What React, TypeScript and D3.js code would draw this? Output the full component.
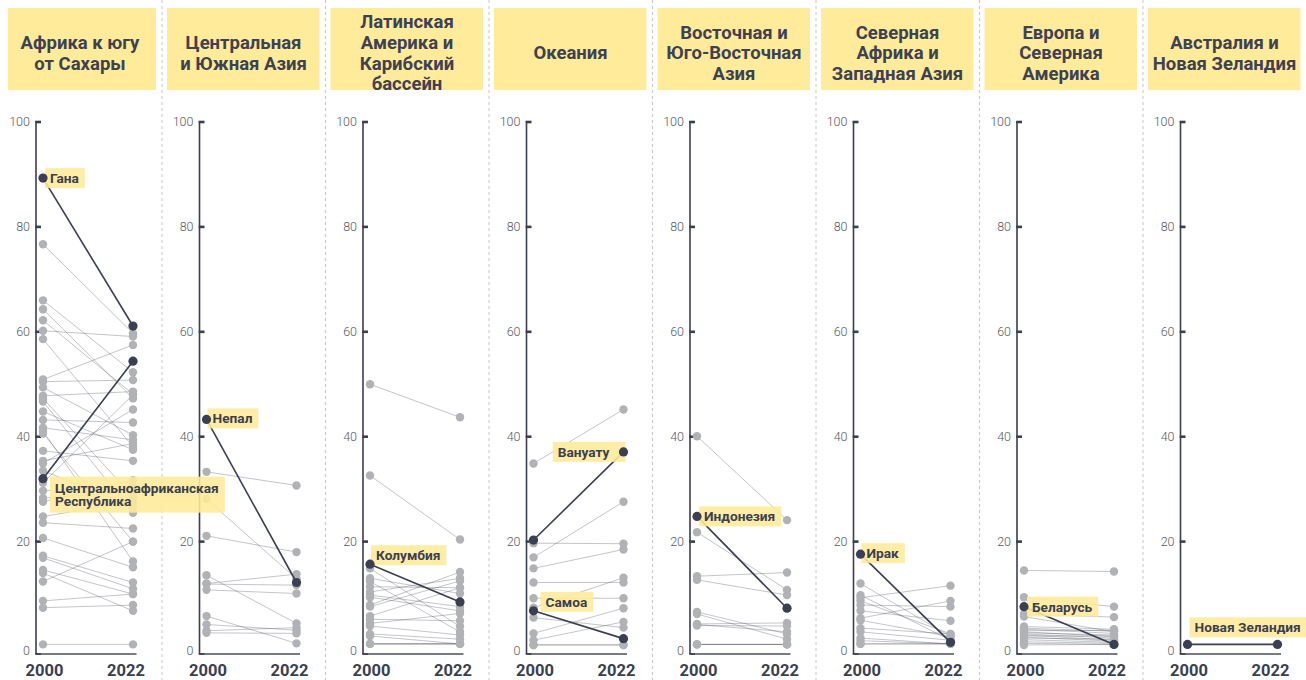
import React, { useEffect, useRef } from "react";
import * as d3 from "d3";

// ---------- DATA ----------
const years = ["2000", "2022"];
const yTicks = [0, 20, 40, 60, 80, 100];

const regionTitles: string[][] = [
  ["Африка к югу", "от Сахары"],
  ["Центральная", "и Южная Азия"],
  ["Латинская", "Америка и", "Карибский", "бассейн"],
  ["Океания"],
  ["Восточная и", "Юго-Восточная", "Азия"],
  ["Северная", "Африка и", "Западная Азия"],
  ["Европа и", "Северная", "Америка"],
  ["Австралия и", "Новая Зеландия"],
];

type Pair = [number, number];

const africaGrey: Pair[] = [
  [76.7, 59.7], [66.0, 52.3], [64.3, 47.3], [62.2, 48.1], [60.2, 59.1], [58.6, 38.1],
  [50.9, 57.5], [50.5, 50.8], [49.4, 40.3], [47.8, 48.6], [47.3, 28.6], [46.7, 25.5],
  [44.8, 37.5], [43.2, 42.7], [41.7, 39.4], [41.1, 16.2], [40.6, 20.0], [37.3, 35.4],
  [35.4, 38.7], [34.9, 45.2], [33.5, 26.7], [31.2, 48.0], [29.7, 30.6], [28.3, 29.5],
  [27.6, 31.7], [24.8, 27.6], [23.6, 22.5], [20.7, 15.1], [17.3, 12.2], [16.9, 11.0],
  [14.6, 10.0], [14.0, 6.8], [12.4, 20.0], [8.7, 10.0], [7.4, 7.9], [0.4, 0.4],
];
const centralSouthAsiaGrey: Pair[] = [
  [33.3, 30.7], [28.1, 12.9], [21.1, 18.0], [13.6, 4.4], [12.0, 13.8], [11.9, 11.7],
  [10.8, 10.1], [5.8, 0.6], [4.2, 3.1], [3.0, 3.6], [2.6, 2.5],
];
const latinAmericaGrey: Pair[] = [
  [50.0, 43.7], [32.6, 20.4], [14.9, 3.8], [13.0, 10.1], [12.4, 2.8], [11.4, 11.2],
  [10.4, 13.0], [9.8, 7.6], [9.4, 6.8], [7.9, 14.2], [7.6, 12.5], [5.8, 11.2],
  [5.2, 4.9], [4.4, 6.3], [3.9, 2.2], [2.4, 1.4], [2.0, 0.5], [0.5, 0.5], [0.5, 0.5], [0.5, 0.5],
];
const oceaniaGrey: Pair[] = [
  [34.9, 45.2], [19.7, 19.6], [17.0, 27.6], [14.9, 18.5], [12.2, 12.2], [9.2, 9.2],
  [7.4, 13.1], [5.5, 3.6], [2.5, 7.3], [1.2, 4.7], [0.3, 0.3], [0.3, 0.3],
];
const eastAsiaGrey: Pair[] = [
  [40.1, 24.1], [21.8, 10.8], [13.4, 14.1], [12.7, 9.8], [6.6, 2.4], [6.2, 1.4],
  [4.3, 4.5], [4.2, 2.8], [4.0, 3.9], [0.4, 0.4], [0.4, 0.4], [0.4, 0.4],
];
const westAsiaGrey: Pair[] = [
  [12.0, 1.9], [9.8, 1.2], [9.3, 11.6], [8.7, 2.4], [7.9, 7.6], [6.8, 4.9], [5.4, 8.7],
  [5.0, 1.9], [3.5, 2.4], [2.8, 1.2], [1.6, 0.5], [1.1, 0.5], [0.5, 0.5], [0.5, 0.5],
];
const europeGrey: Pair[] = [
  [14.5, 14.3], [9.4, 7.6], [6.2, 5.6], [5.7, 2.8], [3.8, 3.3], [3.5, 2.9], [3.3, 2.5],
  [3.0, 3.1], [2.8, 1.9], [2.6, 2.2], [2.4, 1.6], [2.2, 1.2], [2.0, 2.0], [1.8, 1.0],
  [1.6, 1.4], [1.3, 0.8], [0.9, 0.6], [0.6, 0.4], [0.3, 0.4],
];
const anzGrey: Pair[] = [];

type Highlight = { name: string; values: Pair };
const africaHighlight: Highlight[] = [
  { name: "Гана", values: [89.3, 61.1] },
  { name: "Центральноафриканская Республика", values: [32.0, 54.4] },
];
const centralSouthAsiaHighlight: Highlight[] = [{ name: "Непал", values: [43.3, 12.2] }];
const latinAmericaHighlight: Highlight[] = [{ name: "Колумбия", values: [15.7, 8.5] }];
const oceaniaHighlight: Highlight[] = [
  { name: "Вануату", values: [20.3, 37.1] },
  { name: "Самоа", values: [6.8, 1.5] },
];
const eastAsiaHighlight: Highlight[] = [{ name: "Индонезия", values: [24.8, 7.3] }];
const westAsiaHighlight: Highlight[] = [{ name: "Ирак", values: [17.6, 0.8] }];
const europeHighlight: Highlight[] = [{ name: "Беларусь", values: [7.6, 0.4] }];
const anzHighlight: Highlight[] = [{ name: "Новая Зеландия", values: [0.4, 0.4] }];

const greyByRegion = [
  africaGrey, centralSouthAsiaGrey, latinAmericaGrey, oceaniaGrey,
  eastAsiaGrey, westAsiaGrey, europeGrey, anzGrey,
];
const highlightByRegion = [
  africaHighlight, centralSouthAsiaHighlight, latinAmericaHighlight, oceaniaHighlight,
  eastAsiaHighlight, westAsiaHighlight, europeHighlight, anzHighlight,
];

// ---------- LABEL LAYOUT (style only) ----------
const labelLayout: Record<string, { at: number; dx: number; dy: number; lines?: string[]; align?: "end" }> = {
  "Гана": { at: 0, dx: 2, dy: -10 },
  "Центральноафриканская Республика": { at: 0, dx: 7, dy: -2, lines: ["Центральноафриканская", "Республика"] },
  "Непал": { at: 0, dx: 1, dy: -11 },
  "Колумбия": { at: 0, dx: 1, dy: -19 },
  "Вануату": { at: 1, dx: 2, dy: -10, align: "end" },
  "Самоа": { at: 0, dx: 7, dy: -19 },
  "Индонезия": { at: 0, dx: 2, dy: -10 },
  "Ирак": { at: 0, dx: 1, dy: -11 },
  "Беларусь": { at: 0, dx: 3, dy: -10 },
  "Новая Зеландия": { at: 0, dx: 2, dy: -27 },
};

// ---------- STYLE ----------
const W = 1306;
const H = 680;
const DARK = "#3a3f51";
const YELLOW = "#ffeb99";
const GREY_PT = "#b1b2b6";
const FONT = "Roboto, 'Noto Sans', sans-serif";

export default function App() {
  const ref = useRef<SVGSVGElement | null>(null);

  useEffect(() => {
    const svg = d3.select(ref.current);
    svg.selectAll("*").remove();

    const step = 163.5;
    const L0 = -1.5;
    const y = d3.scaleLinear().domain([0, 100]).range([646.5, 122]);
    const baseY = 654;

    const back = svg.append("g");
    const boxes = svg.append("g");
    const front = svg.append("g");
    const texts = svg.append("g");

    regionTitles.forEach((title, k) => {
      const L = L0 + step * k;
      const x = d3.scalePoint<string>().domain(years).range([L + 44.5, L + 134.5]);
      const axisX = L + 37.5;

      // separator
      if (k > 0) {
        back.append("line")
          .attr("x1", L).attr("x2", L).attr("y1", 0).attr("y2", H)
          .attr("stroke", "#c6c6c6").attr("stroke-width", 1).attr("stroke-dasharray", "3 3");
      }

      // header
      const bx = Math.max(L + 5, 8);
      back.append("rect")
        .attr("x", bx).attr("y", 8).attr("width", L + 157.5 - bx).attr("height", 82)
        .attr("fill", YELLOW);
      const lh = 20.7;
      const cy = 53;
      title.forEach((line, i) => {
        back.append("text")
          .attr("x", L + 81.5)
          .attr("y", cy + (i - (title.length - 1) / 2) * lh)
          .attr("dy", "0.34em")
          .attr("text-anchor", "middle")
          .attr("font-family", FONT)
          .attr("font-size", 18.5)
          .attr("font-weight", 700)
          .attr("fill", "#3d4154")
          .text(line);
      });

      // axis
      back.append("line")
        .attr("x1", axisX).attr("x2", axisX).attr("y1", y(100) - 1).attr("y2", baseY)
        .attr("stroke", DARK).attr("stroke-width", 1.6);
      back.append("line")
        .attr("x1", axisX).attr("x2", L + 138).attr("y1", baseY).attr("y2", baseY)
        .attr("stroke", "#4a4e5f").attr("stroke-width", 1.6);
      yTicks.forEach((t) => {
        const ty = t === 0 ? baseY : y(t);
        back.append("line")
          .attr("x1", axisX - 0.8).attr("x2", axisX + 5).attr("y1", ty).attr("y2", ty)
          .attr("stroke", DARK).attr("stroke-width", t === 0 ? 1.6 : 2.6);
        back.append("text")
          .attr("x", axisX - 6)
          .attr("y", t === 0 ? y(t) + 4 : y(t))
          .attr("dy", "0.35em")
          .attr("text-anchor", "end")
          .attr("font-family", FONT)
          .attr("font-size", 12.5)
          .attr("font-weight", 300)
          .attr("fill", "#565a69")
          .text(String(t));
      });

      // year labels
      const yearCenters = [L + 46, L + 127.5];
      years.forEach((yr, i) => {
        back.append("text")
          .attr("x", yearCenters[i]).attr("y", 675.5)
          .attr("text-anchor", "middle")
          .attr("font-family", FONT)
          .attr("font-size", 16.5)
          .attr("font-weight", 700)
          .attr("fill", DARK)
          .text(yr);
      });

      // grey lines
      const grey = greyByRegion[k];
      back.selectAll(null).data(grey).enter().append("line")
        .attr("x1", x(years[0])!).attr("x2", x(years[1])!)
        .attr("y1", (d) => y(d[0])).attr("y2", (d) => y(d[1]))
        .attr("stroke", DARK).attr("stroke-opacity", 0.3).attr("stroke-width", 1);
      // grey points
      grey.forEach((d) => {
        d.forEach((v, i) => {
          back.append("circle")
            .attr("cx", x(years[i])!).attr("cy", y(v)).attr("r", 4.2)
            .attr("fill", GREY_PT);
        });
      });

      // highlights
      const hl = highlightByRegion[k];
      hl.forEach((h) => {
        back.append("line")
          .attr("x1", x(years[0])!).attr("x2", x(years[1])!)
          .attr("y1", y(h.values[0])).attr("y2", y(h.values[1]))
          .attr("stroke", DARK).attr("stroke-width", 1.6);
        h.values.forEach((v, i) => {
          front.append("circle")
            .attr("cx", x(years[i])!).attr("cy", y(v)).attr("r", 4.6)
            .attr("fill", DARK);
        });

        const lay = labelLayout[h.name];
        const px = x(years[lay.at])!;
        const py = y(h.values[lay.at]);
        const lines = lay.lines ?? [h.name];
        const lineH = 13.5;
        const boxH = lines.length === 1 ? 20 : 36;
        const tg = texts.append("g");
        const tEls = lines.map((ln) =>
          tg.append("text")
            .attr("font-family", FONT)
            .attr("font-size", 13.7)
            .attr("font-weight", 700)
            .attr("fill", DARK)
            .text(ln)
        );
        const tw = Math.max(...tEls.map((t) => (t.node() as SVGTextElement).getComputedTextLength()));
        let boxX: number;
        let boxW: number;
        let textX: number;
        if (lay.align === "end") {
          const right = px + lay.dx;
          textX = right - 16 - tw;
          boxX = textX - 5;
          boxW = right - boxX;
        } else {
          boxX = px + lay.dx;
          textX = boxX + 5;
          boxW = tw + 11;
        }
        const boxY = py + lay.dy;
        boxes.append("rect")
          .attr("x", boxX).attr("y", boxY).attr("width", boxW).attr("height", boxH)
          .attr("fill", YELLOW).attr("fill-opacity", 0.88);
        tEls.forEach((t, i) => {
          const cyT = boxY + boxH / 2 + (i - (lines.length - 1) / 2) * lineH;
          t.attr("x", textX).attr("y", cyT).attr("dy", "0.36em");
        });
      });
    });
  }, []);

  return (
    <svg
      ref={ref}
      width={W}
      height={H}
      style={{ position: "absolute", left: 0, top: 0, display: "block", background: "#fff" }}
    />
  );
}
